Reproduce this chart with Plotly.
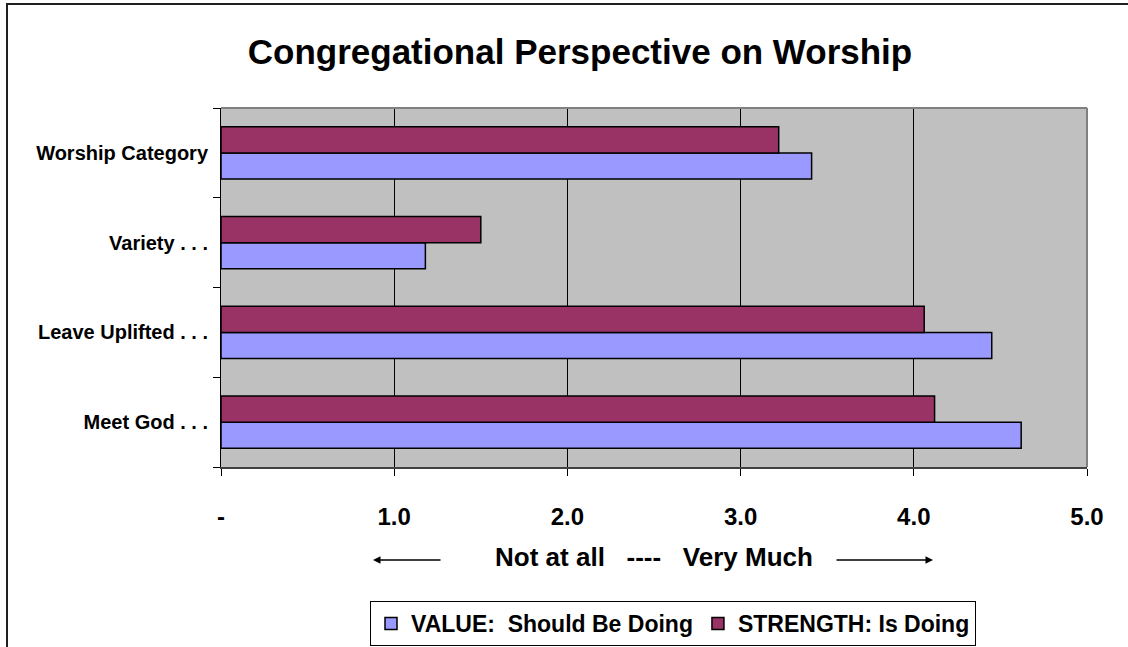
import plotly.graph_objects as go

# Worship survey: mean scores on a 0-5 scale
categories = ["Meet God . . .", "Leave Uplifted . . .", "Variety . . .", "Worship Category"]
value_should = [4.62, 4.45, 1.18, 3.41]
strength_is = [4.12, 4.06, 1.50, 3.22]
tick_vals = [0, 1, 2, 3, 4, 5]
tick_text = ["-", "1.0", "2.0", "3.0", "4.0", "5.0"]

FONT = "Arial, Liberation Sans, sans-serif"
W, H = 1128, 647
L, R, T, B = 221, 41, 108, 180
plot_w = W - L - R
plot_h = H - T - B


def px_x(px):
    return (px - L) / plot_w


def px_y(py):
    return (H - B - py) / plot_h


fig = go.Figure()
fig.add_trace(go.Bar(
    y=categories, x=value_should, orientation="h",
    name="VALUE:  Should Be Doing",
    marker=dict(color="#9999FF", line=dict(color="black", width=1.5)),
))
fig.add_trace(go.Bar(
    y=categories, x=strength_is, orientation="h",
    name="STRENGTH: Is Doing",
    marker=dict(color="#993366", line=dict(color="black", width=1.5)),
))

fig.update_layout(
    width=W, height=H,
    margin=dict(l=L, r=R, t=T, b=B, autoexpand=False),
    paper_bgcolor="white",
    plot_bgcolor="#C0C0C0",
    barmode="group",
    bargap=0.42,
    bargroupgap=0,
    font=dict(family=FONT, color="black"),
    title=dict(
        text="<b>Congregational Perspective on Worship</b>",
        font=dict(size=35, family=FONT, color="black"),
        xref="container", x=580 / W, xanchor="center",
        yref="container", y=1 - 52 / H, yanchor="middle",
    ),
    legend=dict(
        orientation="h",
        x=px_x(673), xanchor="center",
        y=px_y(601), yanchor="top",
        font=dict(size=23, family=FONT, color="black", weight="bold"),
        bordercolor="black", borderwidth=1,
        bgcolor="white",
        traceorder="normal",
    ),
)

fig.update_xaxes(
    range=[0, 5],
    tickvals=tick_vals, ticktext=tick_text,
    tickfont=dict(size=24, family=FONT, color="black", weight="bold"),
    ticks="outside", ticklen=7, tickcolor="black",
    ticklabelstandoff=20,
    showgrid=True, gridcolor="black", gridwidth=1,
    showline=True, linecolor="#404040", linewidth=2, mirror=False,
    zeroline=False,
    title=dict(
        text="<b>Not at all\u00a0\u00a0\u00a0----\u00a0\u00a0\u00a0Very Much</b>",
        font=dict(size=26, family=FONT, color="black"),
        standoff=19,
    ),
)

fig.update_yaxes(
    type="category",
    categoryorder="array", categoryarray=categories,
    tickson="boundaries",
    ticks="outside", ticklen=7, tickcolor="black",
    ticklabelstandoff=8,
    tickfont=dict(size=20, family=FONT, color="black", weight="bold"),
    showgrid=False,
    showline=True, linecolor="black", linewidth=1, mirror=False,
    zeroline=False,
)

# gray frame on the top and right of the plot area
fig.add_shape(type="line", xref="paper", yref="paper", x0=0, x1=1, y0=1, y1=1,
              line=dict(color="#808080", width=2))
fig.add_shape(type="line", xref="paper", yref="paper", x0=1, x1=1, y0=0, y1=1,
              line=dict(color="#808080", width=2))

# outer chart-area border (runs off the right and bottom edges)
fig.add_shape(type="rect", xref="paper", yref="paper",
              x0=px_x(7), x1=px_x(W + 20), y0=px_y(H + 20), y1=px_y(4),
              line=dict(color="#202020", width=2), fillcolor="rgba(0,0,0,0)",
              layer="below")

# direction arrows beside the axis title
arrow_y = px_y(560)
for head, tail in [(373, 442), (933, 835)]:
    fig.add_annotation(
        xref="paper", yref="paper", x=px_x(head), y=arrow_y,
        axref="pixel", ayref="pixel", ax=tail - head, ay=0,
        text="", showarrow=True, arrowhead=2, arrowsize=1,
        arrowwidth=1.5, arrowcolor="black",
    )

fig.write_html("out.html")
